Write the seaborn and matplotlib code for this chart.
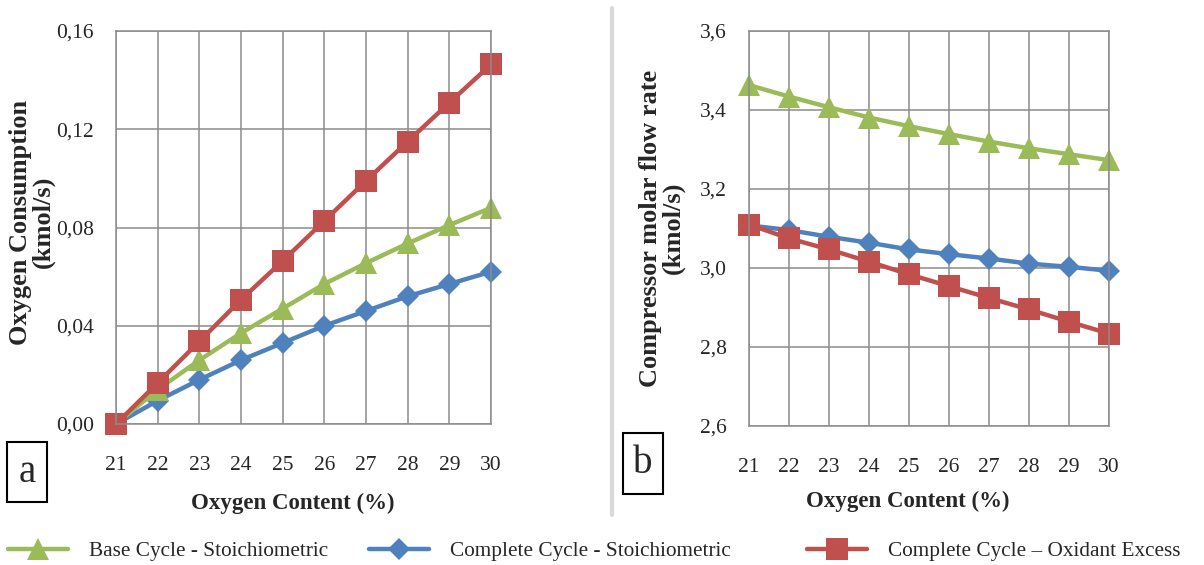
import matplotlib
matplotlib.use("Agg")
import matplotlib.pyplot as plt
import seaborn as sns
from matplotlib.lines import Line2D
from matplotlib.patches import Rectangle
from matplotlib.ticker import FuncFormatter

sns.set_style("white")
plt.rcParams['font.family'] = ['Liberation Serif', 'DejaVu Serif']

oxygen = [21, 22, 23, 24, 25, 26, 27, 28, 29, 30]

# Panel a: Oxygen consumption (kmol/s)
o2_base_stoich = [0.000, 0.014, 0.026, 0.037, 0.047, 0.057, 0.0655, 0.0735, 0.081, 0.088]
o2_complete_stoich = [0.000, 0.0095, 0.018, 0.026, 0.033, 0.040, 0.046, 0.052, 0.057, 0.062]
o2_complete_excess = [0.000, 0.0167, 0.0336, 0.0506, 0.0664, 0.0827, 0.099, 0.115, 0.1308, 0.1464]

# Panel b: Compressor molar flow rate (kmol/s)
comp_base_stoich = [3.463, 3.434, 3.407, 3.381, 3.359, 3.339, 3.320, 3.303, 3.288, 3.273]
comp_complete_stoich = [3.108, 3.096, 3.079, 3.064, 3.047, 3.035, 3.024, 3.011, 3.003, 2.993]
comp_complete_excess = [3.110, 3.075, 3.047, 3.016, 2.984, 2.954, 2.924, 2.895, 2.864, 2.834]

labels = ["Base Cycle - Stoichiometric", "Complete Cycle - Stoichiometric",
          "Complete Cycle \u2013 Oxidant Excess"]
green, blue, red = "#9BBB59", "#4F81BD", "#C0504D"
grid_c = "#8C8C8C"

W, H = 1204, 565
fig = plt.figure(figsize=(W / 100, H / 100), dpi=100)

def fx(px):
    return px / W

def fy(py):
    return 1 - py / H

axa = fig.add_axes([fx(116), fy(424), fx(491) - fx(116), fy(31) - fy(424)])
axb = fig.add_axes([fx(749), fy(426), fx(1109) - fx(749), fy(31) - fy(426)])

styles = [
    (blue, 'D', 11),
    (green, '^', 16),
    (red, 's', 16.5),
]

def draw(ax, series):
    for (c, m, ms), y in zip(styles, series):
        sns.lineplot(x=oxygen, y=y, ax=ax, color=c, marker=m, markersize=ms,
                     markeredgewidth=0, linewidth=3.2, clip_on=False)

draw(axa, [o2_complete_stoich, o2_base_stoich, o2_complete_excess])
draw(axb, [comp_complete_stoich, comp_base_stoich, comp_complete_excess])

axa.set_xlim(21, 30)
axa.set_ylim(0, 0.16)
axa.set_yticks([0, 0.04, 0.08, 0.12, 0.16])
axa.yaxis.set_major_formatter(FuncFormatter(lambda v, p: f"{v:.2f}".replace('.', ',')))
axb.set_xlim(21, 30)
axb.set_ylim(2.6, 3.6)
axb.set_yticks([2.6, 2.8, 3.0, 3.2, 3.4, 3.6])
axb.yaxis.set_major_formatter(FuncFormatter(lambda v, p: f"{v:.1f}".replace('.', ',')))

for ax in (axa, axb):
    ax.set_xticks(oxygen)
    ax.grid(True, color=grid_c, linewidth=1.1)
    ax.set_axisbelow(True)
    for s in ax.spines.values():
        s.set_color(grid_c)
        s.set_linewidth(1.1)
    ax.tick_params(axis='x', length=0, pad=23, labelsize=15.5)
    ax.tick_params(axis='y', length=0, pad=16, labelsize=15.5)
    ax.set_xlabel("Oxygen Content (%)", fontsize=16.5, fontweight='bold')

axa.set_ylabel("Oxygen Consumption\n(kmol/s)", fontsize=19, fontweight='bold',
               linespacing=1.0)
axb.set_ylabel("Compressor molar flow rate\n(kmol/s)", fontsize=19, fontweight='bold',
               linespacing=1.0)
axa.xaxis.set_label_coords((293 - 116) / 375, (424 - 493) / 393)
axb.xaxis.set_label_coords((908 - 749) / 360, (426 - 491) / 395)
axa.yaxis.set_label_coords((55 - 116) / 375, 1 - (222 - 31) / 393)
axb.yaxis.set_label_coords((685 - 749) / 360, 1 - (228 - 31) / 395)

# panel tags
for (x0, y0, x1, y1, t) in [(7, 442, 47, 502, "a"), (623, 433, 663, 494, "b")]:
    fig.add_artist(Rectangle((fx(x0), fy(y1)), fx(x1) - fx(x0), fy(y0) - fy(y1),
                             transform=fig.transFigure, fill=False,
                             edgecolor='black', linewidth=1.5))
    fig.text(fx((x0 + x1) / 2), fy((y0 + y1) / 2), t, fontsize=28,
             ha='center', va='center')

# separator
fig.add_artist(Line2D([fx(612), fx(612)], [fy(8), fy(515)], color="#D9D9D9",
                      linewidth=3, transform=fig.transFigure))

# legend
for (c, m, ms), lab, x0 in zip([styles[1], styles[0], styles[2]],
                               [labels[0], labels[1], labels[2]],
                               [8, 369, 807]):
    h = Line2D([], [], color=c, marker=m, markersize=ms, markeredgewidth=0,
               linewidth=3.2)
    fig.legend(handles=[h], labels=[lab], loc='center left',
               bbox_to_anchor=(fx(x0), fy(551)), frameon=False, fontsize=15.3,
               borderpad=0, borderaxespad=0, handlelength=2.8,
               handletextpad=1.0)

fig.savefig("out.png", dpi=100)
